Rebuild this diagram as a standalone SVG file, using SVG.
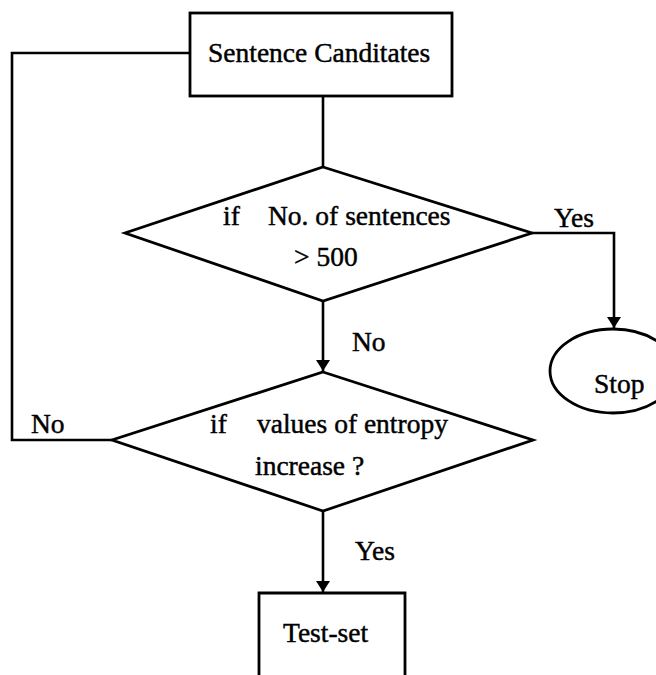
<svg xmlns="http://www.w3.org/2000/svg" width="656" height="675" viewBox="0 0 656 675">
<defs>
<style>
.shape{fill:#fff;stroke:#000;stroke-width:2.8}
.conn{fill:none;stroke:#000;stroke-width:2.6}
text{font-family:"Liberation Serif","Times New Roman",serif;font-size:27.5px;fill:#000;stroke:#000;stroke-width:0.45}
</style>
<marker id="arr" markerUnits="userSpaceOnUse" markerWidth="12" markerHeight="14" refX="11" refY="7" orient="auto">
<path d="M0,0 L11,7 L0,14 z" fill="#000"/>
</marker>
</defs>
<rect width="656" height="675" fill="#fff"/>
<g id="connectors">
<polyline class="conn" points="323,96 323,167"/>
<polyline class="conn" points="323,301 323,371" marker-end="url(#arr)"/>
<polyline class="conn" points="532,233 614,233 614,328" marker-end="url(#arr)"/>
<polyline class="conn" points="323,511 323,592" marker-end="url(#arr)"/>
<polyline class="conn" points="112,440 12,440 12,53 190,53"/>
<text x="554" y="227">Yes</text>
<text x="352" y="351">No</text>
<text x="31" y="433">No</text>
<text x="355" y="560">Yes</text>
</g>
<g id="sentence-candidates">
<rect class="shape" x="190" y="13" width="262" height="83"/>
<text x="208" y="62">Sentence Canditates</text>
</g>
<g id="decision-count">
<polygon class="shape" points="323,167 532,233 323,301 125,233"/>
<text x="223" y="225">if</text>
<text x="268" y="225">No. of sentences</text>
<text x="294" y="266">&gt; 500</text>
</g>
<g id="stop">
<ellipse class="shape" cx="613" cy="371" rx="63" ry="42" stroke-width="2.2"/>
<text x="594" y="393">Stop</text>
</g>
<g id="decision-entropy">
<polygon class="shape" points="323,372 533,440 323,511 112,440"/>
<text x="210" y="433">if</text>
<text x="257" y="433">values of entropy</text>
<text x="255" y="475">increase ?</text>
</g>
<g id="test-set">
<polyline class="shape" fill="none" points="259,680 259,593 405,593 405,680"/>
<text x="283" y="642">Test-set</text>
</g>
</svg>
